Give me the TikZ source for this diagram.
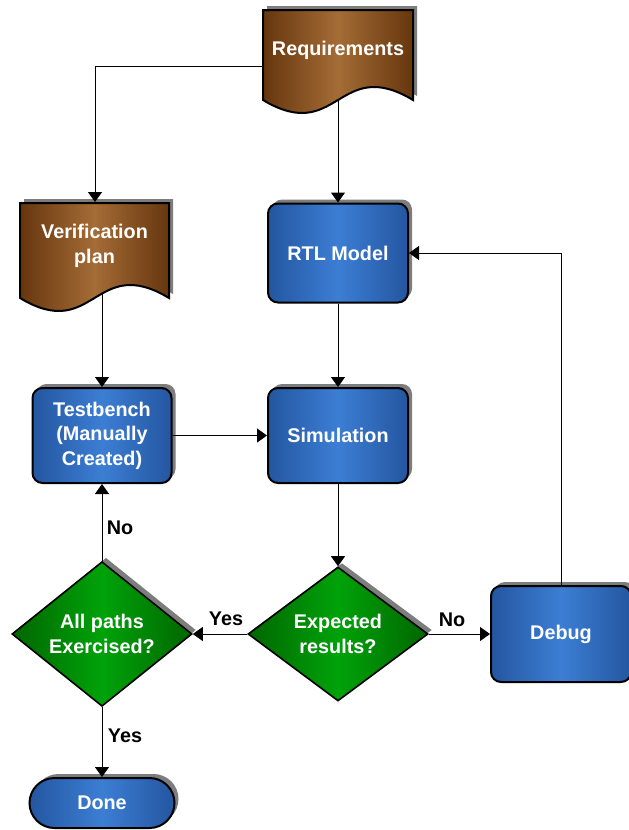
\documentclass[tikz,border=0pt]{standalone}
\usepackage{fontspec}
\setmainfont{Liberation Sans}
\usetikzlibrary{arrows.meta,shapes.geometric,shadows}

\definecolor{blueedge}{RGB}{36,86,160}
\definecolor{bluemid}{RGB}{60,126,212}
\definecolor{brownedge}{RGB}{102,54,14}
\definecolor{brownmid}{RGB}{164,108,54}
\definecolor{greenedge}{RGB}{0,102,0}
\definecolor{greenmid}{RGB}{0,162,10}
\definecolor{shadowgray}{RGB}{125,125,125}

\begin{document}
\begin{tikzpicture}[x=1pt,y=-1pt,
  outline/.style={draw=black, line width=2pt},
  bluefill/.style={left color=blueedge, right color=blueedge, middle color=bluemid},
  brownfill/.style={left color=brownedge, right color=brownedge, middle color=brownmid},
  greenfill/.style={left color=greenedge, right color=greenedge, middle color=greenmid},
  boxshadow/.style={drop shadow={shadow xshift=4pt, shadow yshift=4pt, opacity=1, fill=shadowgray}},
  boxfont/.style={text=white, font=\bfseries\fontsize{19.8}{24.5}\selectfont, align=center},
  procbox/.style={outline, bluefill, boxshadow, boxfont, rectangle, rounded corners=10pt,
    inner sep=0pt, minimum width=140pt},
  decision/.style={outline, line width=1.6pt, greenfill, boxshadow, boxfont, diamond, inner sep=0pt,
    minimum width=180pt, minimum height=134pt},
  terminal/.style={outline, bluefill, boxshadow, boxfont, rectangle, rounded corners=25pt,
    inner sep=0pt, minimum width=145pt, minimum height=50pt},
  doctext/.style={boxfont},
  lbl/.style={text=black, font=\bfseries\fontsize{19.8}{24}\selectfont},
  conn/.style={line width=1.2pt, -{Triangle[length=10pt,width=14pt]}},
  thinconn/.style={line width=1pt, -{Triangle[length=10pt,width=14pt]}}]

\useasboundingbox (0,0) rectangle (629,830);

% ---- document shapes (wavy bottom) ----
\fill[shadowgray, shift={(4,-4)}]
  (263,10) -- (413,10) -- (413,100) .. controls (338,55) and (338,145) .. (263,100) -- cycle;
\draw[outline, brownfill]
  (263,10) -- (413,10) -- (413,100) .. controls (338,55) and (338,145) .. (263,100) -- cycle;
\node[doctext] (reqtext) at (338,50) {Requirements};
\coordinate (reqW) at (263,66);
\coordinate (reqS) at (338,100);

\fill[shadowgray, shift={(4,-4)}]
  (20,203) -- (169,203) -- (169,298) .. controls (94.5,253) and (94.5,343) .. (20,298) -- cycle;
\draw[outline, brownfill]
  (20,203) -- (169,203) -- (169,298) .. controls (94.5,253) and (94.5,343) .. (20,298) -- cycle;
\node[doctext] (vptext) at (94.5,246) {Verification\\plan};
\coordinate (vpN) at (95,202);
\coordinate (vpS) at (102,294);

% ---- process boxes ----
\node[procbox, minimum height=99pt] (rtl) at (338,253) {RTL Model};
\node[procbox, minimum width=139pt, minimum height=95pt] (tb) at (102,435.5) {Testbench\\(Manually\\Created)};
\node[procbox, minimum height=95pt] (sim) at (338,435.5) {Simulation};
\node[procbox, minimum height=96pt] (dbg) at (561,634) {Debug};

% ---- decisions ----
\node[decision] (ap) at (102,634) {All paths\\Exercised?};
\node[decision] (er) at (338,634) {Expected\\results?};

% ---- terminal ----
\node[terminal] (done) at (102,803) {Done};

% ---- connectors ----
\draw[thinconn] (reqW) -| (vpN);
\draw[thinconn] (reqS) -- (rtl.north);
\draw[thinconn] (vpS) -- (vpS |- tb.north);
\draw[thinconn] (rtl.south) -- (sim.north);
\draw[conn] (tb.east) -- (sim.west);
\draw[thinconn] (sim.south) -- (er.north);
\draw[thinconn] (er.west) -- (ap.east);
\draw[thinconn] (er.east) -- (dbg.west);
\draw[thinconn] (dbg.north) |- (rtl.east);
\draw[thinconn] (ap.north) -- (tb.south);
\draw[thinconn] (ap.south) -- (done.north);

% ---- branch labels ----
\node[lbl] (yesleft) at (226,619) {Yes};
\node[lbl] (noright) at (452,620) {No};
\node[lbl] (noup) at (120,528) {No};
\node[lbl] (yesdown) at (125,736) {Yes};

\end{tikzpicture}
\end{document}
